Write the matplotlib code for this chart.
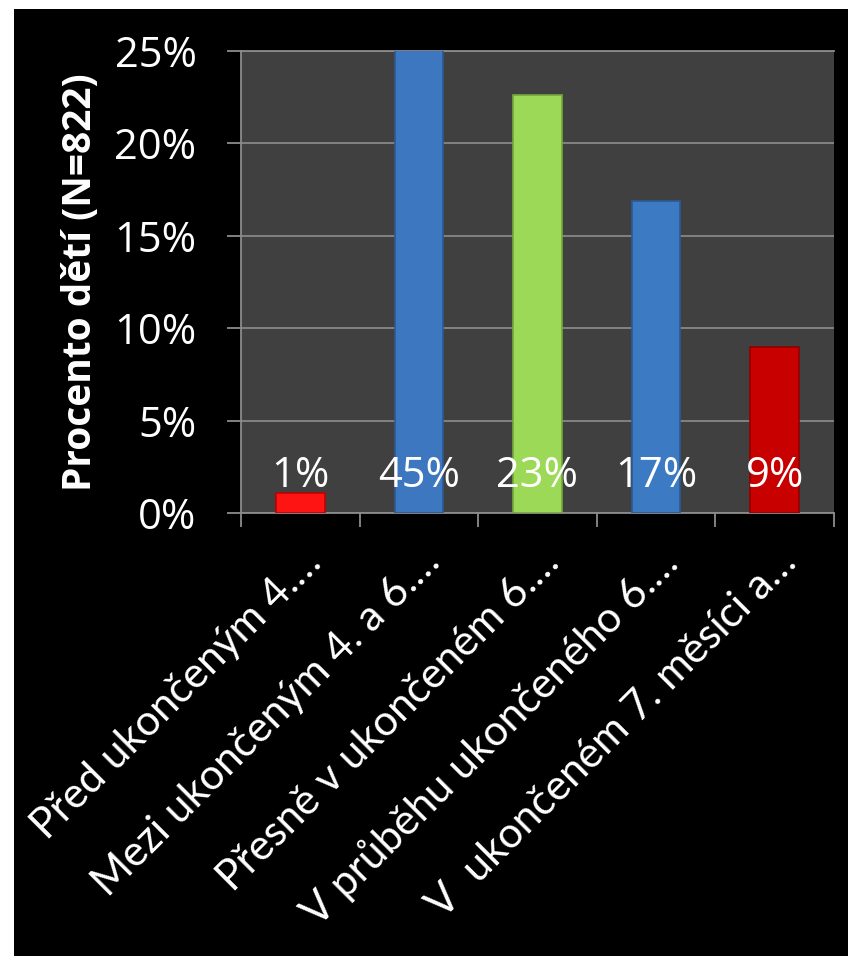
import matplotlib
matplotlib.use("Agg")
import matplotlib.pyplot as plt
import matplotlib.transforms as mtransforms
from matplotlib.patches import Rectangle

# data
categories = [
    "Před ukončeným 4.…",
    "Mezi ukončeným 4. a 6.…",
    "Přesně v ukončeném 6.…",
    "V průběhu ukončeného 6.…",
    "V  ukončeném 7. měsíci a…",
]
values = [1.1, 45.0, 22.6, 16.9, 9.0]
value_labels = ["1%", "45%", "23%", "17%", "9%"]
bar_colors = ["#ff1414", "#3c77bf", "#9cd957", "#3d7ac4", "#c80000"]
edge_colors = ["#c00000", "#2a5a94", "#74a83c", "#2a5a94", "#900000"]
y_ticks = [0, 5, 10, 15, 20, 25]

plt.rcParams['font.family'] = ['Open Sans', 'DejaVu Sans']

fig = plt.figure(figsize=(8.48, 9.56), dpi=100, facecolor="black")
ax = fig.add_axes([241 / 848, 1 - 513 / 956, (834 - 241) / 848, (513 - 51) / 956])
ax.set_facecolor("#404040")

x = list(range(len(categories)))
ax.bar(x, values, width=0.41, color=bar_colors, edgecolor=edge_colors,
       linewidth=1.2, zorder=3)

for xi, lab in zip(x, value_labels):
    ax.text(xi, 2.0, lab, ha="center", va="center", color="white",
            fontsize=30, zorder=4)

ax.set_xlim(-0.5, len(categories) - 0.5)
ax.set_ylim(0, 25)
ax.set_yticks(y_ticks)
ax.set_yticklabels([f"{t}%" for t in y_ticks])
ax.yaxis.grid(True, color="#878787", linewidth=1.3, zorder=0)
ax.set_axisbelow(True)

# ticks at the category boundaries, no tick labels
ax.set_xticks([i - 0.5 for i in range(len(categories) + 1)])
ax.set_xticklabels([])

# rotated category labels, anchored at their right end below each bar
label_trans = ax.get_xaxis_transform() + mtransforms.ScaledTranslation(
    15 / 100, -43 / 100, fig.dpi_scale_trans)
for xi, cat in zip(x, categories):
    ax.text(xi, 0, cat, transform=label_trans, rotation=45, ha="right",
            va="center", rotation_mode="anchor", fontsize=30.5,
            color="white", family=["Lato", "DejaVu Sans"], clip_on=False)

ax.tick_params(axis="x", length=10, width=1.3, color="#8c8c8c")
ax.tick_params(axis="y", length=10, width=1.3, color="#8c8c8c",
               labelcolor="white", labelsize=30, pad=22)

for side in ["left", "bottom", "top"]:
    ax.spines[side].set_color("#8c8c8c")
    ax.spines[side].set_linewidth(1.3)
ax.spines["right"].set_visible(False)

ax.set_ylabel("Procento dětí (N=822)", color="white", fontsize=28,
              fontweight="bold", labelpad=10)

# white strips at the left and top edge of the picture
fig.patches.append(Rectangle((0, 0), 14 / 848, 1, transform=fig.transFigure,
                             facecolor="white", edgecolor="none"))
fig.patches.append(Rectangle((0, 1 - 9 / 956), 1, 9 / 956, transform=fig.transFigure,
                             facecolor="white", edgecolor="none"))

fig.savefig("out.png", dpi=100, facecolor=fig.get_facecolor())
